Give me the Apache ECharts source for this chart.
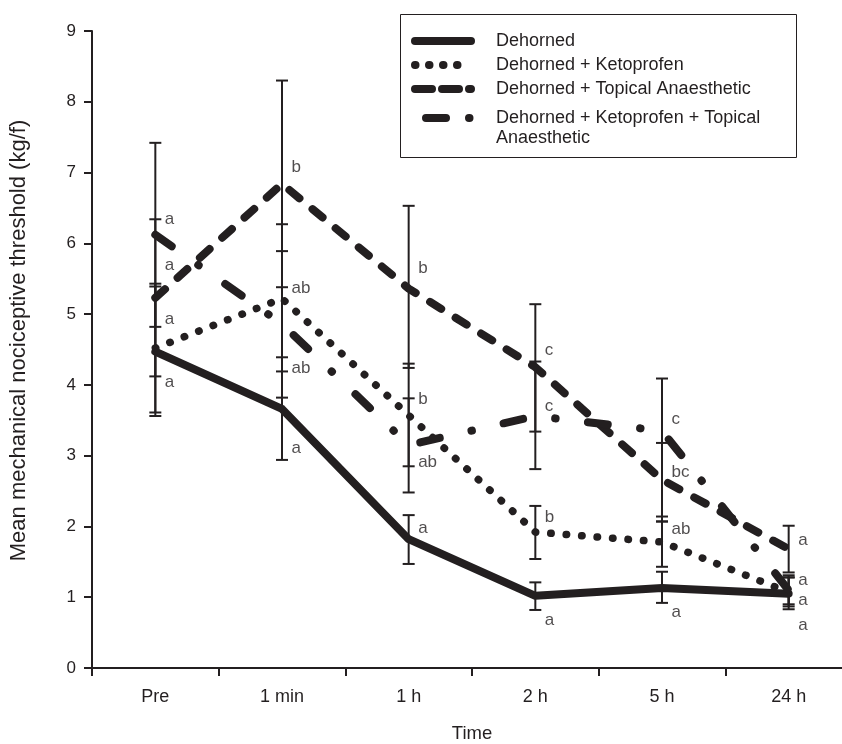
<!DOCTYPE html>
<html>
<head>
<meta charset="utf-8">
<script src="https://cdn.jsdelivr.net/npm/echarts@6/dist/echarts.min.js"></script>
<style>
  html, body { margin: 0; padding: 0; background: #fff; }
  #chart { width: 842px; height: 744px; }
</style>
</head>
<body>
<div id="chart"></div>
<script>
var chart = echarts.init(document.getElementById("chart"));

// time points
let categories = ["Pre", "1 min", "1 h", "2 h", "5 h", "24 h"];

let seriesNames = [
  "Dehorned",
  "Dehorned + Ketoprofen",
  "Dehorned + Topical Anaesthetic",
  "Dehorned + Ketoprofen + Topical Anaesthetic"
];

// means (kg/f)
let dehorned    = [4.47, 3.66, 1.82, 1.02, 1.13, 1.05];
let ketoprofen  = [4.52, 5.22, 3.57, 1.92, 1.78, 1.07];
let topical     = [5.23, 6.84, 5.36, 4.25, 2.66, 1.68];
let ketoTopical = [6.12, 4.86, 3.15, 3.56, 3.35, 1.10];

// error bar ends
let dehornedLow     = [3.56, 2.94, 1.47, 0.82, 0.92, 0.83];
let dehornedHigh    = [5.39, 4.39, 2.16, 1.21, 1.36, 1.28];
let ketoprofenLow   = [3.61, 4.19, 2.85, 1.54, 1.43, 0.87];
let ketoprofenHigh  = [5.43, 6.27, 4.30, 2.29, 2.07, 1.28];
let topicalLow      = [4.12, 5.38, 4.24, 3.34, 2.14, 1.35];
let topicalHigh     = [6.34, 8.30, 6.53, 5.14, 3.18, 2.01];
let ketoTopicalLow  = [4.82, 3.82, 2.48, 2.81, 2.07, 0.90];
let ketoTopicalHigh = [7.42, 5.89, 3.81, 4.33, 4.09, 1.31];

// significance letters
let letterCats   = [0, 0, 0, 0, 1, 1, 1, 1, 2, 2, 2, 2, 3, 3, 3, 3, 4, 4, 4, 4, 5, 5, 5, 5];
let letterValues = [6.34, 5.69, 4.92, 4.03, 7.08, 5.37, 4.24, 3.11, 5.65, 3.80, 2.90, 1.98,
                    4.49, 3.70, 2.13, 0.68, 3.52, 2.76, 1.96, 0.78, 1.81, 1.24, 0.95, 0.61];
let letterTexts  = ["a", "a", "a", "a", "b", "ab", "ab", "a", "b", "b", "ab", "a",
                    "c", "c", "b", "a", "c", "bc", "ab", "a", "a", "a", "a", "a"];

let yTicks = [0, 1, 2, 3, 4, 5, 6, 7, 8, 9];

var ink = "#231f20";
var font = "Liberation Sans, Arial, sans-serif";

var errData = [];
[[dehornedLow, dehornedHigh], [ketoprofenLow, ketoprofenHigh],
 [topicalLow, topicalHigh], [ketoTopicalLow, ketoTopicalHigh]].forEach(function (pair) {
  categories.forEach(function (c, i) {
    errData.push([i, pair[0][i], pair[1][i]]);
  });
});

var letterData = letterCats.map(function (c, i) {
  return [c, letterValues[i], letterTexts[i]];
});

function renderErr(params, api) {
  var x = api.coord([api.value(0), 0])[0];
  var lo = api.coord([api.value(0), api.value(1)])[1];
  var hi = api.coord([api.value(0), api.value(2)])[1];
  var w = 6;
  var style = { stroke: ink, lineWidth: 2 };
  return {
    type: "group",
    children: [
      { type: "line", shape: { x1: x, y1: hi, x2: x, y2: lo }, style: style },
      { type: "line", shape: { x1: x - w, y1: hi, x2: x + w, y2: hi }, style: style },
      { type: "line", shape: { x1: x - w, y1: lo, x2: x + w, y2: lo }, style: style }
    ]
  };
}

function lineSeries(name, data, width, type) {
  return {
    name: name,
    type: "line",
    data: data,
    symbol: "none",
    showSymbol: false,
    z: 3,
    color: ink,
    lineStyle: { color: ink, width: width, type: type, cap: "round", join: "round" }
  };
}

var legendBase = {
  orient: "vertical",
  left: 411,
  padding: 0,
  itemWidth: 56, itemHeight: 10,
  selectedMode: false,
  itemStyle: { color: "transparent", borderWidth: 0 },
  lineStyle: { width: 8 },
  textStyle: { fontSize: 18, lineHeight: 20, color: ink, fontFamily: font, padding: [0, 0, 0, 20] }
};

chart.setOption({
  animation: false,
  textStyle: { fontFamily: font, color: ink },
  grid: { left: 92, top: 31, width: 760, height: 637, outerBoundsMode: "none", containLabel: false },
  graphic: [{
    type: "rect",
    left: 398, top: 12,
    shape: { width: 396, height: 143 },
    style: { fill: "none", stroke: ink, lineWidth: 1 }
  }],
  legend: [
    Object.assign({}, legendBase, {
      data: [
        { name: seriesNames[0] },
        { name: seriesNames[1], lineStyle: { width: 8, type: [0.5, 13.5] } },
        { name: seriesNames[2], lineStyle: { width: 8, type: [17, 10] } }
      ],
      top: 31,
      itemGap: 4
    }),
    Object.assign({}, legendBase, {
      data: [{ name: seriesNames[3], lineStyle: { width: 8, type: [20, 23, 0.5, 30], dashOffset: -11 } }],
      top: 88,
      formatter: function () { return "\nDehorned + Ketoprofen + Topical\nAnaesthetic"; }
    })
  ],
  xAxis: {
    type: "category",
    data: categories,
    boundaryGap: true,
    name: "Time",
    nameLocation: "middle",
    nameGap: 56,
    nameTextStyle: { fontSize: 18.5, color: ink, fontFamily: font, verticalAlign: "top" },
    axisLine: { lineStyle: { color: ink, width: 2 } },
    axisTick: { show: true, length: 8, lineStyle: { color: ink, width: 2 } },
    axisLabel: { fontSize: 18, color: ink, margin: 20, fontFamily: font },
    splitLine: { show: false }
  },
  yAxis: {
    type: "value",
    min: yTicks[0],
    max: yTicks[yTicks.length - 1],
    interval: 1,
    name: "Mean mechanical nociceptive threshold (kg/f)",
    nameLocation: "middle",
    nameGap: 62,
    nameTextStyle: { fontSize: 22, color: ink, fontFamily: font, padding: [0, 0, 0, 18] },
    axisLine: { show: true, lineStyle: { color: ink, width: 2 } },
    axisTick: { show: true, length: 8, lineStyle: { color: ink, width: 2 } },
    axisLabel: { fontSize: 17, color: ink, margin: 16, fontFamily: font },
    splitLine: { show: false }
  },
  series: [
    {
      type: "custom",
      renderItem: renderErr,
      data: errData,
      encode: { x: 0, y: [1, 2] },
      z: 2,
      silent: true
    },
    lineSeries(seriesNames[0], dehorned, 8, "solid"),
    lineSeries(seriesNames[1], ketoprofen, 7.5, [0.5, 15]),
    lineSeries(seriesNames[2], topical, 8, [13, 17]),
    lineSeries(seriesNames[3], ketoTopical, 8, [20, 32.5, 0.5, 32.5]),
    {
      type: "scatter",
      data: letterData,
      symbolSize: 1,
      itemStyle: { color: "transparent" },
      silent: true,
      z: 4,
      label: {
        show: true,
        position: "right",
        distance: 9,
        fontSize: 17,
        color: ink,
        fontFamily: font,
        formatter: function (p) { return p.value[2]; }
      }
    }
  ]
});
</script>
</body>
</html>
